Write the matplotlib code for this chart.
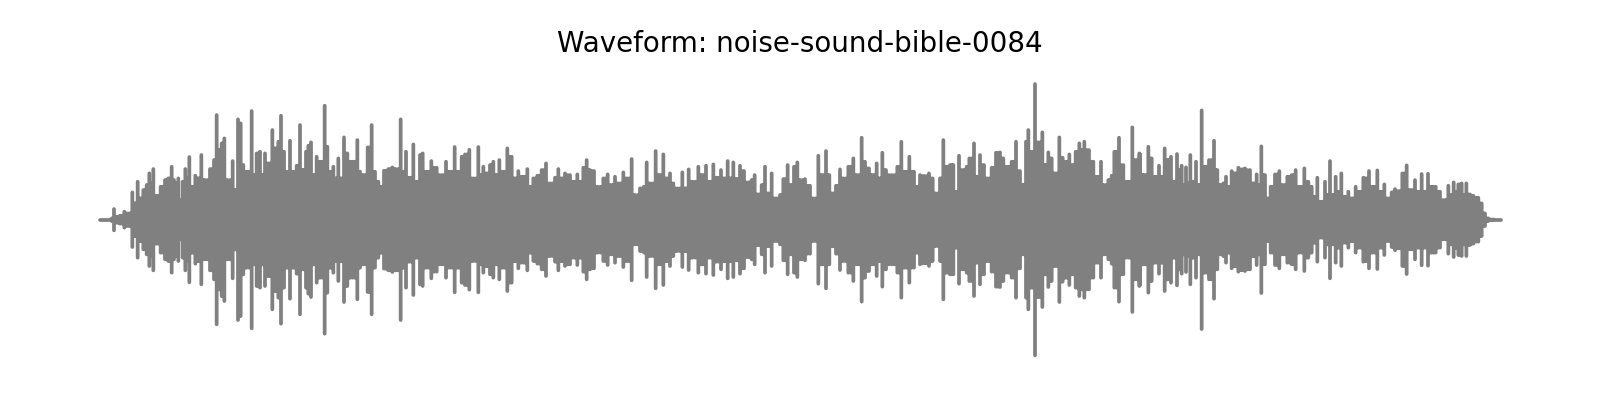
import matplotlib
matplotlib.use('Agg')
import matplotlib.pyplot as plt
import numpy as np

title = 'Waveform: noise-sound-bible-0084'

# envelope, in four stretches (x and top edge, at 3x scale)
x1 = [30, 60, 65, 72, 80, 90, 103, 118, 127, 135, 143, 150, 160, 170, 178, 184, 190, 200, 212, 225, 235, 245, 252, 258, 265, 272, 278, 286, 293, 298, 305, 316, 325, 334, 345, 360, 372, 380, 388, 395, 403, 412, 428, 436, 444, 452, 460, 470, 485, 493, 500, 510, 518, 525, 535, 547, 555, 565, 573, 582, 590, 600, 610, 620, 630, 640, 648, 655, 663, 672, 680, 690, 704, 712, 720, 730, 737, 745, 752, 762, 772, 780, 793, 802, 810, 820, 833, 845, 855, 865, 873, 882, 895, 907, 917, 932, 940, 948, 958, 970, 980, 990, 998, 1010, 1024, 1040]
y1 = [447, 445, 440, 412, 435, 432, 420, 425, 362, 395, 330, 380, 355, 340, 305, 335, 292, 372, 345, 325, 320, 285, 325, 335, 320, 385, 330, 292, 320, 256, 345, 312, 320, 250, 325, 292, 265, 130, 235, 215, 200, 325, 268, 355, 143, 155, 280, 300, 118, 310, 245, 240, 310, 245, 275, 175, 230, 210, 132, 240, 300, 207, 300, 282, 160, 295, 240, 222, 212, 310, 255, 270, 102, 225, 300, 285, 320, 260, 320, 197, 245, 270, 270, 205, 300, 310, 227, 160, 300, 330, 345, 297, 292, 287, 292, 143, 300, 240, 318, 218, 330, 250, 245, 300, 268, 288]

x2 = [5, 18, 30, 44, 55, 65, 75, 88, 100, 115, 125, 130, 140, 150, 160, 170, 178, 190, 202, 215, 225, 235, 250, 262, 272, 280, 292, 305, 318, 330, 345, 355, 365, 375, 390, 403, 412, 422, 430, 440, 450, 462, 472, 490, 503, 515, 525, 537, 550, 562, 575, 585, 600, 612, 620, 632, 647, 658, 670, 680, 690, 700, 712, 727, 737, 746, 758, 775, 785, 798, 808, 820, 830, 843, 853, 863, 872, 880, 890, 900, 912, 925, 935, 944, 955, 965, 975, 985, 995, 1008, 1020, 1030, 1043]
y2 = [310, 270, 300, 226, 300, 255, 248, 234, 320, 226, 310, 285, 305, 280, 270, 310, 265, 300, 230, 255, 320, 298, 315, 292, 345, 320, 312, 295, 275, 335, 318, 292, 320, 305, 310, 330, 308, 330, 288, 265, 295, 298, 345, 320, 308, 340, 315, 335, 302, 320, 262, 370, 350, 345, 272, 335, 238, 310, 248, 320, 305, 335, 350, 302, 350, 293, 330, 285, 310, 282, 330, 278, 318, 295, 320, 268, 320, 272, 322, 282, 298, 332, 325, 310, 368, 340, 285, 365, 305, 380, 370, 322, 280]

x3 = [5, 12, 22, 30, 45, 60, 70, 85, 95, 108, 118, 130, 138, 150, 160, 175, 190, 200, 215, 225, 237, 247, 260, 268, 277, 288, 305, 322, 334, 345, 358, 372, 382, 390, 403, 417, 428, 436, 450, 460, 468, 480, 490, 497, 507, 520, 530, 538, 552, 560, 570, 582, 592, 605, 618, 630, 640, 655, 665, 678, 690, 700, 708, 715, 725, 735, 745, 757, 765, 775, 785, 795, 808, 818, 828, 838, 850, 857, 868, 875, 883, 897, 910, 922, 933, 942, 955, 965, 973, 987, 1000, 1015, 1027, 1040, 1048]
y3 = [340, 285, 272, 325, 322, 342, 380, 252, 310, 238, 310, 365, 342, 293, 320, 285, 260, 310, 198, 270, 290, 310, 275, 320, 243, 295, 310, 285, 210, 300, 255, 300, 345, 310, 313, 305, 320, 365, 320, 205, 285, 280, 280, 360, 252, 295, 285, 260, 215, 315, 250, 280, 320, 288, 243, 242, 260, 285, 270, 210, 298, 340, 210, 175, 240, 37, 212, 182, 280, 242, 260, 305, 197, 258, 270, 248, 280, 240, 215, 235, 210, 235, 270, 315, 270, 340, 325, 312, 240, 198, 280, 330, 167, 265, 245]

x4 = [0, 5, 12, 25, 35, 45, 57, 65, 74, 82, 93, 102, 111, 118, 125, 132, 138, 145, 151, 160, 168, 178, 185, 195, 207, 222, 232, 243, 250, 258, 268, 275, 285, 295, 305, 315, 330, 340, 350, 358, 364, 375, 382, 392, 405, 418, 430, 442, 455, 467, 478, 493, 505, 515, 522, 532, 545, 555, 563, 570, 578, 587, 597, 604, 615, 625, 637, 647, 657, 670, 680, 687, 697, 712, 722, 733, 742, 755, 765, 780, 787, 800, 812, 825, 835, 845, 853, 864, 875, 887, 900, 915, 925, 932, 941, 950, 955, 965, 972, 979, 990, 1000, 1015, 1025, 1035, 1045, 1060, 1075, 1083]
y4 = [248, 310, 310, 225, 260, 315, 282, 315, 230, 265, 255, 330, 247, 295, 282, 340, 287, 335, 250, 330, 270, 340, 116, 285, 265, 207, 295, 340, 335, 315, 345, 298, 305, 288, 293, 290, 295, 335, 308, 340, 224, 310, 380, 345, 308, 298, 340, 315, 310, 295, 345, 290, 330, 345, 375, 318, 390, 330, 370, 268, 370, 315, 360, 305, 375, 360, 380, 345, 360, 318, 320, 298, 345, 296, 360, 338, 380, 362, 352, 358, 305, 281, 355, 325, 360, 307, 360, 306, 345, 345, 360, 385, 342, 370, 332, 360, 338, 335, 370, 335, 368, 372, 378, 395, 425, 440, 443, 447, 448]

# 转成图上的像素单位
times = np.concatenate([90 + np.array(x1) / 3, 440 + np.array(x2) / 3,
                        790 + np.array(x3) / 3, 1140 + np.array(x4) / 3])
peaks = np.concatenate([y1, y2, y3, y4])
amps = np.clip((449 - peaks) / 3 - 1.7, 0, None)

# 相邻峰之间用较低的一个填满
mid_x = (times[:-1] + times[1:]) / 2
mid_amp = np.minimum(amps[:-1], amps[1:])
all_x = np.concatenate([times, mid_x])
all_amp = np.concatenate([amps, mid_amp])

# 每根竖线之间用 nan 断开
line_x = np.column_stack([all_x, all_x, np.full(all_x.size, np.nan)]).ravel()
line_y = np.column_stack([all_amp, -all_amp, np.full(all_x.size, np.nan)]).ravel()

fig = plt.figure(figsize=(16, 4), dpi=100)
ax = fig.add_axes([0, 0, 1, 1])
ax.plot(line_x, line_y, color='gray', linewidth=2.7, solid_capstyle='round')
ax.plot([times[0], times[-1]], [0, 0], color='gray', linewidth=2.7, solid_capstyle='round')
ax.set_xlim(0, 1600)
ax.set_ylim(-180.3, 219.7)
ax.axis('off')

fig.suptitle(title, fontsize=20, y=1 - 44.5 / 400, va='center')

fig.savefig('out.png', dpi=100)
